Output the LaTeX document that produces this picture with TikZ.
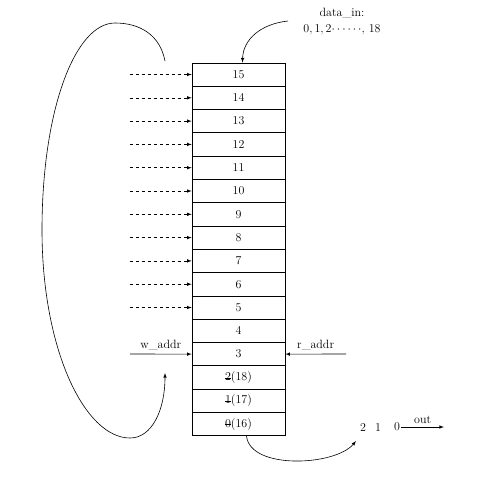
\documentclass[tikz,border=0pt]{standalone}
\usetikzlibrary{calc}
\newcommand{\strk}[1]{\makebox[0pt][l]{\rule[0.45ex]{0.5em}{0.4pt}}#1}

\begin{document}
\begin{tikzpicture}[x=1pt,y=-1pt,>=latex,line width=0.6pt,
  cell/.style={draw, minimum width=93pt, minimum height=23.3pt, inner sep=0pt, font=\large},
  lbl/.style={font=\large, inner sep=1pt}]
\useasboundingbox (0,0) rectangle (489,480);
% memory cells
\foreach \i in {3,...,15}
{	\node[cell] (c\i) at (238.5,{74.5+(15-\i)*23.3}) {\i};
}
\node[cell] (c2) at (238.5,377.4) {\strk{2}(18)};
\node[cell] (c1) at (238.5,400.7) {\strk{1}(17)};
\node[cell] (c0) at (238.5,424.0) {\strk{0}(16)};
% dashed inputs
\foreach \i in {5,...,15}
{	\coordinate (d\i) at (130,{74.5+(15-\i)*23.3});
	\draw[dashed,->] (d\i) -- (c\i.west);
}
% addresses
\coordinate (wa) at (130,354);
\coordinate (ra) at (346,354);
\draw[->] (wa) -- (c3.west) node[lbl,midway,above=3pt] {w\_addr};
\draw[->] (ra) -- (c3.east) node[lbl,midway,above=3pt] {r\_addr};
% wrap around
\coordinate (lt) at (165,61);
\coordinate (lb) at (165,373);
\draw[->] (lt) .. controls (160,35) and (140,23) .. (115,23)
  .. controls (75,23) and (42,110) .. (42,230)
  .. controls (42,350) and (85,438) .. (130,438)
  .. controls (152,438) and (165,410) .. (lb);
% data in
\node[lbl] (din) at (342,13) {data\_in:};
\node[lbl] (dval) at (342,30) {0,\,1,\,2$\cdots\cdots$,\ 18};
\coordinate (ds) at (288,21);
\draw[->] (ds) .. controls (260,24) and (243,40) .. ($(c15.north)+(4,0)$);
% data out
\node[lbl] (q2) at (363,427) {2};
\node[lbl] (q1) at (378,427) {1};
\node[lbl] (q0) at (397,427) {0};
\coordinate (oe) at (444,427);
\draw[->] (q0.east) -- (q0.east -| oe) node[lbl,midway,above=2pt] {out};
\coordinate (ob) at (356,441);
\draw[->] ($(c0.south)+(8,0)$) .. controls (250,470) and (335,466) .. (ob);
\end{tikzpicture}
\end{document}
